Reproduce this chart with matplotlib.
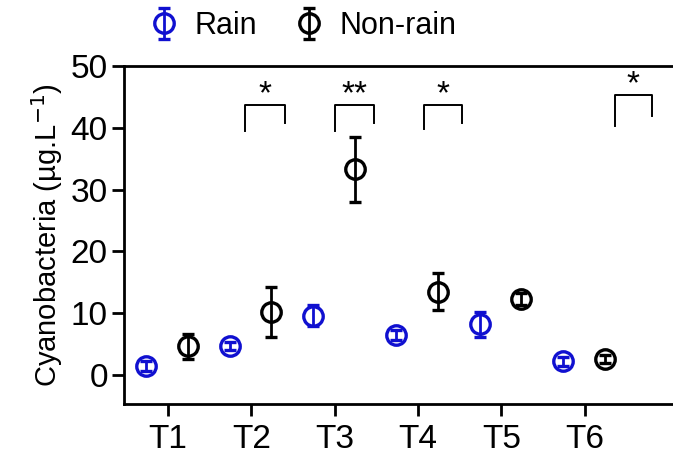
import numpy as np
import matplotlib.pyplot as plt

plt.rcParams['font.family'] = ['Liberation Sans', 'DejaVu Sans']

times = ['T1', 'T2', 'T3', 'T4', 'T5', 'T6']
rain_mean = [1.5, 4.7, 9.6, 6.5, 8.2, 2.2]
rain_err = [0.8, 0.6, 1.7, 0.8, 2.0, 0.7]
nonrain_mean = [4.6, 10.2, 33.3, 13.5, 12.3, 2.6]
nonrain_err = [2.0, 4.0, 5.3, 3.0, 1.0, 0.7]

# significance brackets: (left x, right x, top, left leg end, right leg end, label)
brackets = [
    (0.93, 1.40, 43.7, 39.5, 40.8, '*'),
    (2.01, 2.47, 43.7, 39.5, 40.8, '**'),
    (3.07, 3.53, 43.7, 39.8, 40.8, '*'),
    (5.36, 5.81, 45.3, 40.3, 41.9, '*'),
]

blue = '#1010d0'
x = np.arange(len(times))

fig = plt.figure(figsize=(6.73, 4.59), dpi=100)
ax = fig.add_axes([0.184, 0.12, 0.816, 0.736])

style = dict(fmt='o', markersize=14, markerfacecolor='none', markeredgewidth=2.4,
             elinewidth=2.0, capsize=4.5, capthick=2.0)
h_rain = ax.errorbar(x - 0.26, rain_mean, yerr=rain_err, color=blue, **style)
h_non = ax.errorbar(x + 0.24, nonrain_mean, yerr=nonrain_err, color='black', **style)

for x0, x1, top, l_end, r_end, lab in brackets:
    ax.plot([x0, x0, x1, x1], [l_end, top, top, r_end], color='black', lw=1.4)
    ax.text((x0 + x1) / 2, top + 1.6, lab, ha='center', va='center', fontsize=24)

ax.set_xlim(-0.53, 6.06)
ax.set_ylim(-4.7, 50)
ax.set_xticks(x)
ax.set_xticklabels(times)
ax.set_yticks([0, 10, 20, 30, 40, 50])
ax.set_ylabel('Cyanobacteria (µg.L$^{-1}$)', fontsize=21, labelpad=4)

ax.spines['right'].set_visible(False)
for s in ['left', 'top', 'bottom']:
    ax.spines[s].set_linewidth(2.0)
ax.tick_params(axis='both', labelsize=24, width=2.0, length=8.5, direction='out')
ax.tick_params(axis='x', pad=6)
ax.tick_params(axis='y', pad=3)

fig.legend([h_rain, h_non], ['Rain', 'Non-rain'], loc='center left',
           bbox_to_anchor=(0.18, 0.943), ncol=2, frameon=False, fontsize=22,
           handlelength=1.0, handletextpad=0.5, columnspacing=1.2)

fig.savefig('out.png', dpi=100)
